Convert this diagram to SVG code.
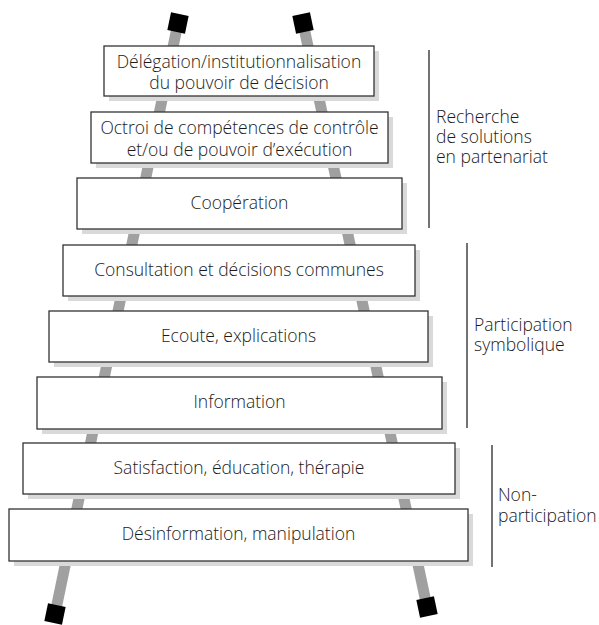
<svg xmlns="http://www.w3.org/2000/svg" width="599" height="625" viewBox="0 0 599 625">
<defs>
<style>
.rail{stroke:#a0a0a0;stroke-width:11;fill:none}
.cap{fill:#000}
.sh{fill:#d9d9d9}
.box{fill:#fff;stroke:#333;stroke-width:1.3}
.t{font-family:"Open Sans","Noto Sans","Liberation Sans",sans-serif;font-size:17.5px;font-weight:300;fill:#1a1a1a;text-anchor:middle}
.lbl{font-family:"Open Sans","Noto Sans","Liberation Sans",sans-serif;font-size:17.5px;font-weight:300;fill:#1a1a1a}
.br{stroke:#444;stroke-width:1.5}
</style>
</defs>
<rect width="599" height="625" fill="#fff"/>
<g id="connectors">
<line class="rail" x1="178" y1="23" x2="55" y2="614"/>
<line class="rail" x1="303" y1="23" x2="427" y2="607"/>
<rect class="cap" x="-9" y="-9" width="18" height="18" transform="translate(178,23) rotate(11.8)"/>
<rect class="cap" x="-9" y="-9" width="18" height="18" transform="translate(55,614) rotate(11.8)"/>
<rect class="cap" x="-9" y="-9" width="18" height="18" transform="translate(303,23) rotate(-12)"/>
<rect class="cap" x="-9" y="-9" width="18" height="18" transform="translate(427,607) rotate(-12)"/>
</g>
<g id="n1">
<rect class="sh" x="109" y="51" width="270" height="50"/>
<rect class="box" x="104" y="46" width="270" height="50"/>
<text class="t"><tspan x="239" y="68">Délégation/institutionnalisation</tspan><tspan x="239" y="89">du pouvoir de décision</tspan></text>
</g>
<g id="n2">
<rect class="sh" x="96" y="117" width="297" height="51"/>
<rect class="box" x="91" y="112" width="297" height="51"/>
<text class="t"><tspan x="239.5" y="134">Octroi de compétences de contrôle</tspan><tspan x="239.5" y="156">et/ou de pouvoir d’exécution</tspan></text>
</g>
<g id="n3">
<rect class="sh" x="82" y="183" width="325" height="51"/>
<rect class="box" x="77" y="178" width="325" height="51"/>
<text class="t" x="239.5" y="209">Coopération</text>
</g>
<g id="n4">
<rect class="sh" x="68" y="250" width="352" height="51"/>
<rect class="box" x="63" y="245" width="352" height="51"/>
<text class="t" x="239" y="276">Consultation et décisions communes</text>
</g>
<g id="n5">
<rect class="sh" x="54" y="316" width="379" height="51"/>
<rect class="box" x="49" y="311" width="379" height="51"/>
<text class="t" x="238.5" y="342">Ecoute, explications</text>
</g>
<g id="n6">
<rect class="sh" x="42" y="382" width="405" height="52"/>
<rect class="box" x="37" y="377" width="405" height="52"/>
<text class="t" x="239.5" y="408">Information</text>
</g>
<g id="n7">
<rect class="sh" x="28" y="448" width="432" height="51"/>
<rect class="box" x="23" y="443" width="432" height="51"/>
<text class="t" x="239" y="474">Satisfaction, éducation, thérapie</text>
</g>
<g id="n8">
<rect class="sh" x="14" y="514" width="459" height="52"/>
<rect class="box" x="9" y="509" width="459" height="52"/>
<text class="t" x="238.5" y="540">Désinformation, manipulation</text>
</g>
<g id="brackets">
<line class="br" x1="429" y1="50" x2="429" y2="228"/>
<text class="lbl"><tspan x="436" y="123">Recherche</tspan><tspan x="436" y="143">de solutions</tspan><tspan x="436" y="163">en partenariat</tspan></text>
<line class="br" x1="467" y1="243" x2="467" y2="428"/>
<text class="lbl"><tspan x="474" y="331">Participation</tspan><tspan x="474" y="351">symbolique</tspan></text>
<line class="br" x1="492" y1="445" x2="492" y2="567"/>
<text class="lbl"><tspan x="498" y="501">Non-</tspan><tspan x="498" y="522">participation</tspan></text>
</g>
</svg>
